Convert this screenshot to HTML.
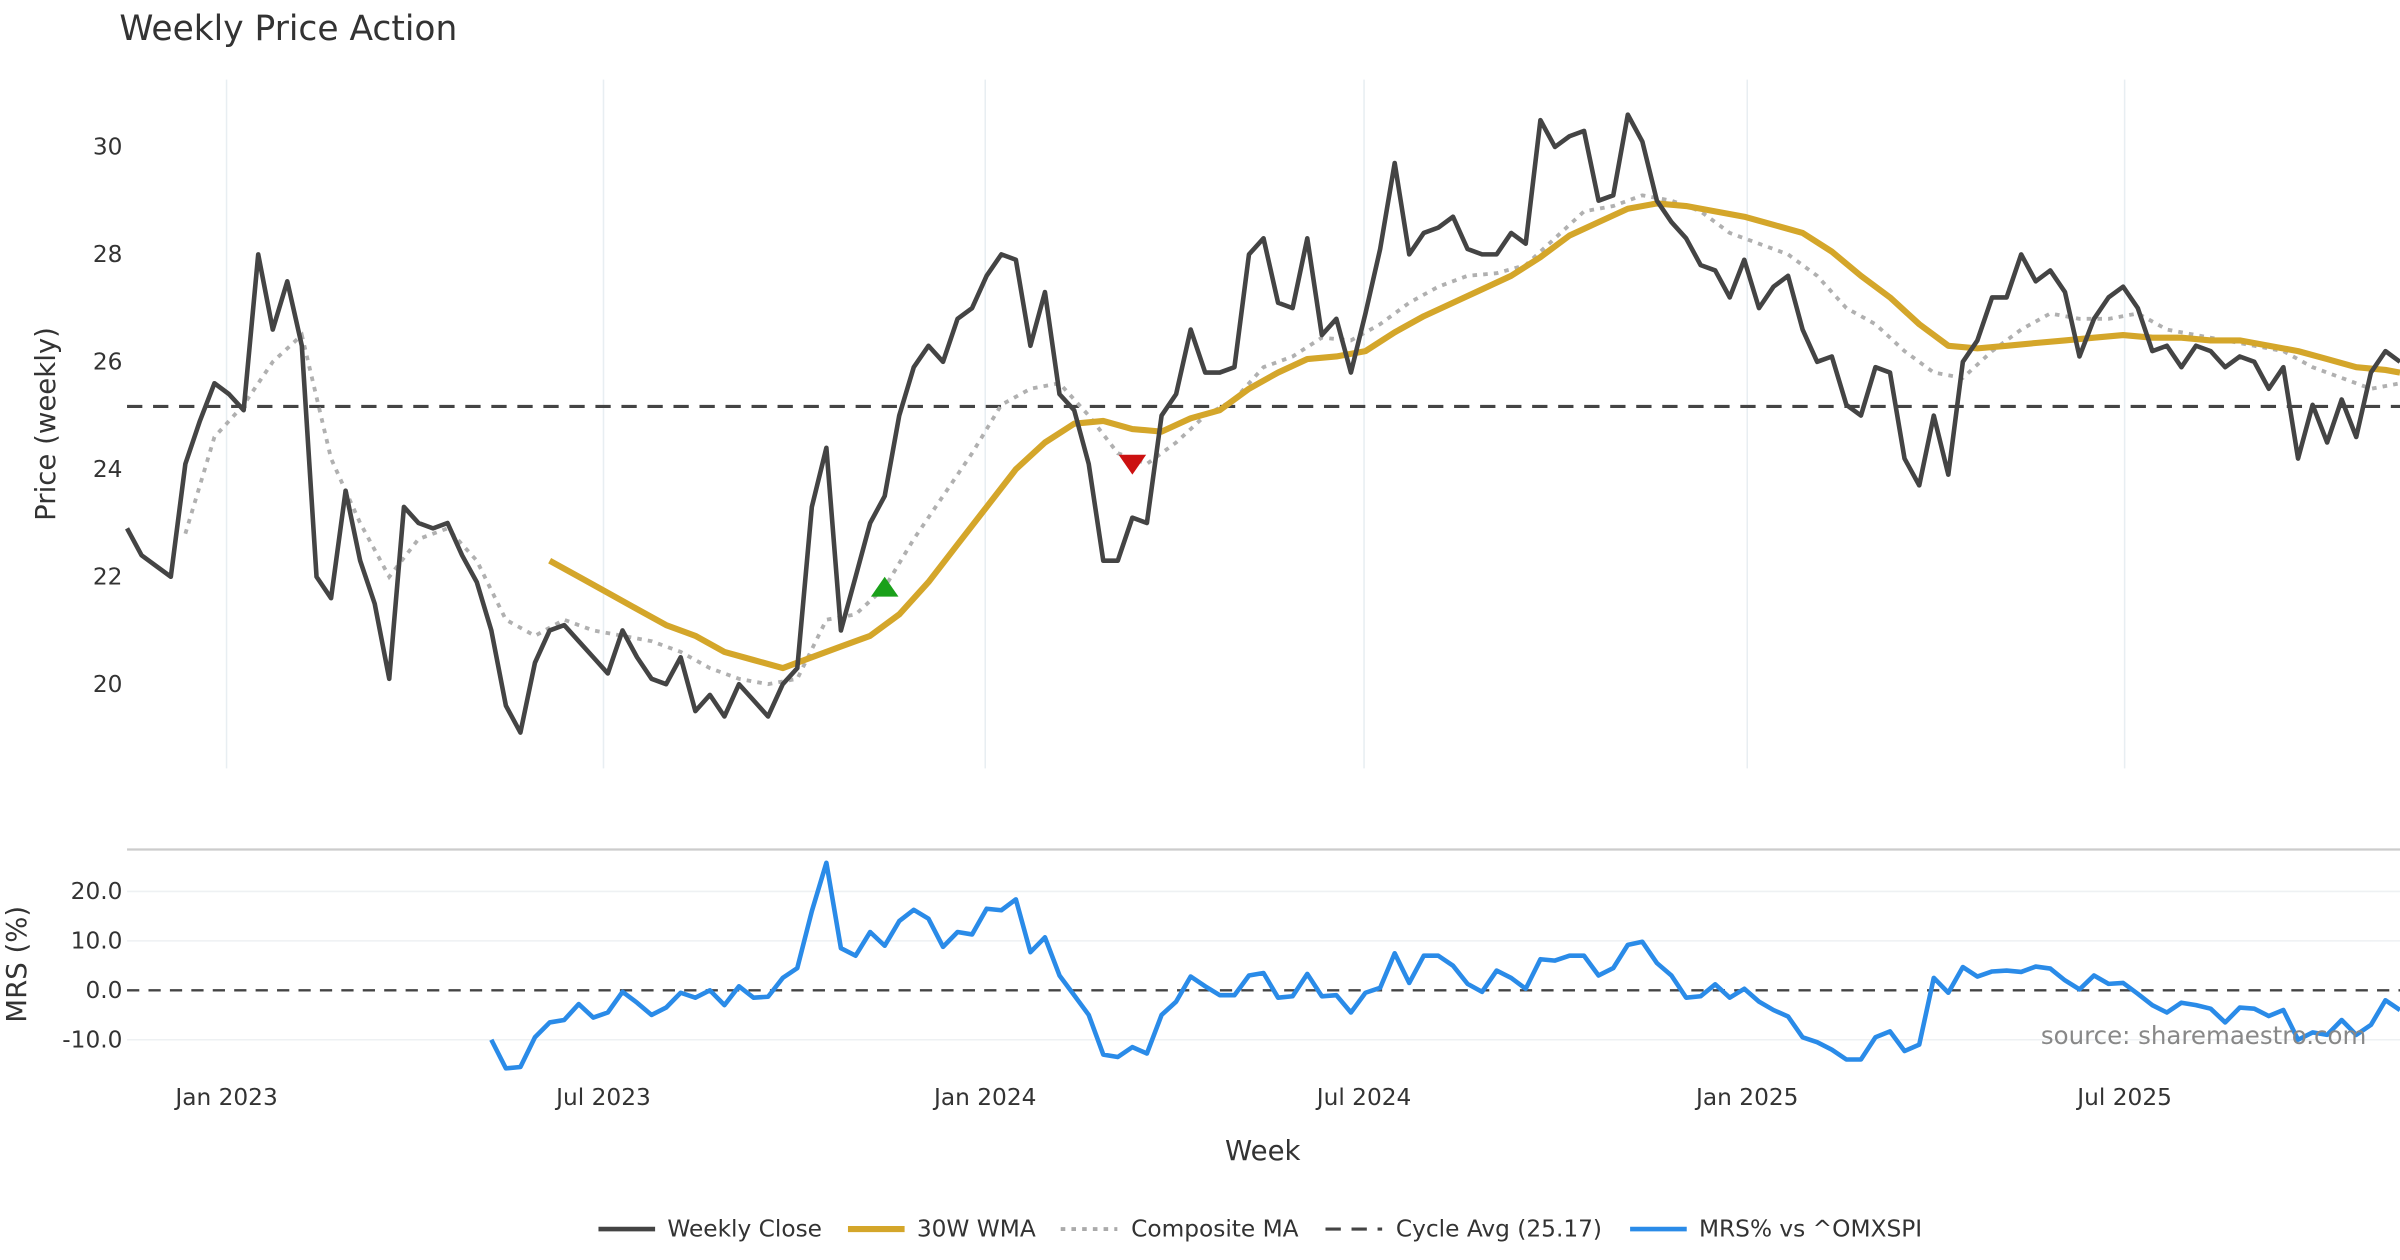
<!DOCTYPE html>
<html><head><meta charset="utf-8"><style>
html,body{margin:0;padding:0;background:#fff;}
svg{display:block;font-family:"DejaVu Sans","Liberation Sans",sans-serif;}
</style></head><body>
<svg id="chart" width="2400" height="1260" viewBox="0 0 1568 823.2" xmlns="http://www.w3.org/2000/svg">
<rect width="1568" height="823.2" fill="#fff"/>
<text x="78" y="26" font-size="22.5" fill="#333">Weekly Price Action</text>
<g id="main"></g>
<g id="sub"></g>
<text transform="translate(36,277) rotate(-90)" text-anchor="middle" font-size="18" fill="#333">Price (weekly)</text>
<text transform="translate(17,630) rotate(-90)" text-anchor="middle" font-size="18" fill="#333">MRS (%)</text>
<text x="825" y="758" text-anchor="middle" font-size="18" fill="#333">Week</text>
<text x="1546" y="682" text-anchor="end" font-size="16" fill="#888">source: sharemaestro.com</text>
<g id="legend" font-size="15.2" fill="#333">
  <g><line x1="391" y1="803" x2="428" y2="803" stroke="#444" stroke-width="3"/><text x="436" y="808">Weekly Close</text></g>
  <g><line x1="554" y1="803" x2="591" y2="803" stroke="#d4a62a" stroke-width="4"/><text x="599" y="808">30W WMA</text></g>
  <g><line x1="693" y1="803" x2="730" y2="803" stroke="#aaa" stroke-width="2.5" stroke-dasharray="3,4"/><text x="739" y="808">Composite MA</text></g>
  <g><line x1="866" y1="803" x2="903" y2="803" stroke="#444" stroke-width="2" stroke-dasharray="10,7"/><text x="912" y="808">Cycle Avg (25.17)</text></g>
  <g><line x1="1065" y1="803" x2="1102" y2="803" stroke="#2a8be8" stroke-width="3"/><text x="1110" y="808">MRS% vs ^OMXSPI</text></g>
</g>
</svg>
<script>
const closeVals=[22.9,22.4,22.2,22.0,24.1,24.9,25.6,25.4,25.1,28.0,
26.6,27.5,26.3,22.0,21.6,23.6,22.3,21.5,20.1,23.3,
23.0,22.9,23.0,22.4,21.9,21.0,19.6,19.1,20.4,21.0,
21.1,20.8,20.5,20.2,21.0,20.5,20.1,20.0,20.5,19.5,
19.8,19.4,20.0,19.7,19.4,20.0,20.3,23.3,24.4,21.0,
22.0,23.0,23.5,25.0,25.9,26.3,26.0,26.8,27.0,27.6,
28.0,27.9,26.3,27.3,25.4,25.1,24.1,22.3,22.3,23.1,
23.0,25.0,25.4,26.6,25.8,25.8,25.9,28.0,28.3,27.1,
27.0,28.3,26.5,26.8,25.8,26.9,28.1,29.7,28.0,28.4,
28.5,28.7,28.1,28.0,28.0,28.4,28.2,30.5,30.0,30.2,
30.3,29.0,29.1,30.6,30.1,29.0,28.6,28.3,27.8,27.7,
27.2,27.9,27.0,27.4,27.6,26.6,26.0,26.1,25.2,25.0,
25.9,25.8,24.2,23.7,25.0,23.9,26.0,26.4,27.2,27.2,
28.0,27.5,27.7,27.3,26.1,26.8,27.2,27.4,27.0,26.2,
26.3,25.9,26.3,26.2,25.9,26.1,26.0,25.5,25.9,24.2,
25.2,24.5,25.3,24.6,25.8,26.2,26.0];
const wmaStart=29;
const wmaVals=[22.3,22.0,21.7,21.4,21.1,20.9,20.6,20.45,20.3,20.5,20.7,20.9,21.3,21.9,22.6,23.3,24.0,24.5,24.85,24.9,24.75,24.7,24.95,25.1,25.5,25.8,26.05,26.1,26.2,26.55,26.85,27.1,27.35,27.6,27.95,28.35,28.6,28.85,28.95,28.9,28.8,28.7,28.55,28.4,28.05,27.6,27.2,26.7,26.3,26.25,26.3,26.35,26.4,26.45,26.5,26.45,26.45,26.4,26.4,26.3,26.2,26.05,25.9,25.85,25.8];
const compStart=4;
const compVals=[22.8,24.6,25.2,26.0,26.5,24.2,23.0,22.0,22.7,22.9,22.3,21.2,20.9,21.2,21.0,20.9,20.8,20.6,20.3,20.1,20.0,20.1,21.2,21.3,21.8,22.7,23.5,24.3,25.2,25.5,25.6,25.0,24.3,24.1,24.5,25.0,25.3,25.9,26.1,26.45,26.4,26.7,27.1,27.4,27.6,27.65,27.8,28.3,28.8,28.9,29.1,29.0,28.8,28.4,28.2,28.0,27.6,27.0,26.7,26.2,25.8,25.7,26.2,26.6,26.9,26.8,26.8,26.9,26.6,26.5,26.4,26.3,26.2,25.9,25.7,25.5,25.6];
const mrsStart=25;
const mrsVals=[-10,-15.8,-15.5,-9.5,-6.5,-6,-2.8,-5.5,-4.5,-0.3,
-2.5,-5,-3.5,-0.5,-1.5,0,-3,0.8,-1.5,-1.3,
2.5,4.5,16,25.8,8.5,7,11.8,9,14,16.3,
14.5,8.8,11.8,11.3,16.5,16.2,18.4,7.7,10.7,3,
-1,-5,-13,-13.5,-11.5,-12.8,-5,-2.3,2.8,0.8,
-1,-1,3,3.5,-1.5,-1.2,3.3,-1.2,-1,-4.5,
-0.5,0.5,7.5,1.5,7,7,5,1.3,-0.3,4,
2.5,0.3,6.3,6,7,7,3,4.5,9.2,9.8,
5.5,3,-1.5,-1.2,1.2,-1.5,0.3,-2.3,-4,-5.3,
-9.5,-10.5,-12,-14,-14,-9.5,-8.3,-12.3,-11,2.5,
-0.5,4.7,2.8,3.8,4,3.7,4.8,4.4,2,0.2,
3,1.3,1.5,-0.7,-3,-4.5,-2.5,-3,-3.7,-6.5,
-3.5,-3.7,-5.2,-4,-10,-8.5,-9,-6,-9,-7,
-2,-4];
const cycleAvg=25.17;
const priceTicks=[20,22,24,26,28,30];
const mrsTicks=[-10,0,10,20];
const dateTickLabels=["Jan 2023","Jul 2023","Jan 2024","Jul 2024","Jan 2025","Jul 2025"];
const dateTickWeeks=[6.83,32.7,58.9,84.9,111.2,137.1];
const buyWeeks=[52]; const buyVals=[21.8];
const sellWeeks=[69]; const sellVals=[24.1];

const NS="http://www.w3.org/2000/svg";
const nW=closeVals.length;
const X0=83,X1=1568;
const xs=i=>X0+i*(X1-X0)/(nW-1);
const yP=v=>96+(30-v)*35.1;
const yM=v=>647-v*3.23;
function mk(tag,attrs,parent){const e=document.createElementNS(NS,tag);for(const k in attrs)e.setAttribute(k,attrs[k]);parent.appendChild(e);return e;}
const main=document.getElementById('main'),sub=document.getElementById('sub');

dateTickWeeks.forEach((w,i)=>{
  const l=mk('line',{x1:xs(w),x2:xs(w),y1:52,y2:502,stroke:'#e8eef2','stroke-width':1},main);
  
  
  const t=mk('text',{x:xs(w),y:722,'text-anchor':'middle','font-size':15.2,fill:'#333'},sub);
  t.textContent=dateTickLabels[i];
  
  
});
priceTicks.forEach(v=>{
  const t=mk('text',{x:80,y:yP(v)+5,'text-anchor':'end','font-size':15.2,fill:'#333'},main);
  t.textContent=v;
  
  
});
const ca=mk('line',{x1:X0,x2:X1,y1:yP(cycleAvg),y2:yP(cycleAvg),stroke:'#444','stroke-width':2,'stroke-dasharray':'10,7'},main);


function path(vals,start,yf,attrs,parent,name){
  const d=vals.map((v,k)=>(k?'L':'M')+xs(start+k).toFixed(1)+','+yf(v).toFixed(1)).join(' ');
  const p=mk('path',Object.assign({d:d,fill:'none','stroke-linejoin':'round'},attrs),parent);
  
  
}
(function(){const d=compVals.map((v,k)=>(k?'L':'M')+xs(compStart+2*k).toFixed(1)+','+yP(v).toFixed(1)).join(' ');
const p=mk('path',{d:d,fill:'none',stroke:'#b0b0b0','stroke-width':2.5,'stroke-dasharray':'3,4'},main);

})();
(function(){const d=wmaVals.map((v,k)=>{const w=Math.min(wmaStart+2*k,nW-1);return (k?'L':'M')+xs(w).toFixed(1)+','+yP(v).toFixed(1);}).join(' ');
const p=mk('path',{d:d,fill:'none',stroke:'#d4a62a','stroke-width':4,'stroke-linejoin':'round'},main);

})();
path(closeVals,0,yP,{stroke:'#444','stroke-width':3},main,'weekly-close-line');
buyWeeks.forEach((w,i)=>{const x=xs(w),y=yP(buyVals[i]);
  const m=mk('polygon',{points:`${x-9},${y+6} ${x+9},${y+6} ${x},${y-7}`,fill:'#1aa01a'},main);
  
  });
sellWeeks.forEach((w,i)=>{const x=xs(w),y=yP(sellVals[i]);
  const m=mk('polygon',{points:`${x-9},${y-6} ${x+9},${y-6} ${x},${y+7}`,fill:'#cc1111'},main);
  
  });

const sep=mk('line',{x1:X0,x2:X1,y1:555,y2:555,stroke:'#ccc','stroke-width':1.5},sub);


mrsTicks.forEach(v=>{
  if(v!==0){const g=mk('line',{x1:X0,x2:X1,y1:yM(v),y2:yM(v),stroke:'#eef1f3','stroke-width':1},sub);
  
  }
  const t=mk('text',{x:80,y:yM(v)+5,'text-anchor':'end','font-size':15.2,fill:'#333'},sub);
  t.textContent=v.toFixed(1);
  
  
});
const z=mk('line',{x1:X0,x2:X1,y1:yM(0),y2:yM(0),stroke:'#444','stroke-width':1.5,'stroke-dasharray':'8,6'},sub);


path(mrsVals,mrsStart,yM,{stroke:'#2a8be8','stroke-width':3},sub,'mrs-line');
</script>
</body></html>
